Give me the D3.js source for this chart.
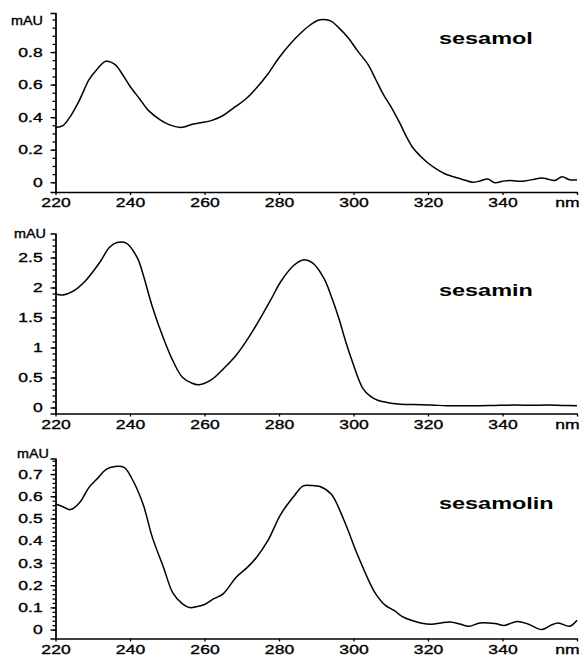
<!DOCTYPE html>
<html>
<head>
<meta charset="utf-8">
<script src="https://cdn.jsdelivr.net/npm/d3@7"></script>
<style>
body { margin: 0; background: #fff; }
svg text { font-family: "Liberation Sans", Arial, sans-serif; fill: #000; }
.axis path, .axis line { stroke: #000; stroke-width: 1.3; }
.spectrum { fill: none; stroke: #000; stroke-width: 1.5; stroke-linejoin: round; }
</style>
</head>
<body>
<div id="chart"></div>
<script>
// UV spectra (wavelength in nm, absorbance in mAU)

const xTicks      = [220, 240, 260, 280, 300, 320, 340, 360];
const xTickLabels = ["220", "240", "260", "280", "300", "320", "340", "nm"];

const sesamolNm  = [220, 222, 224, 226.5, 229, 231, 233.5, 236, 238, 240, 242.5, 245, 248, 250.5, 253.5, 255, 256.5, 259, 262, 265, 268, 271, 274, 277, 280, 283, 286, 288, 290.5, 292, 294, 296, 298.5, 301, 304, 306, 308, 310, 312.5, 314, 316, 318, 320, 322, 324.5, 326, 328, 330, 332, 334, 336, 338, 340, 342, 344, 346, 348, 350.5, 352, 354, 356, 358, 360];
const sesamolAbs = [0.337, 0.348, 0.405, 0.508, 0.63, 0.69, 0.743, 0.723, 0.662, 0.59, 0.515, 0.44, 0.385, 0.354, 0.337, 0.343, 0.355, 0.365, 0.38, 0.41, 0.46, 0.51, 0.58, 0.665, 0.765, 0.85, 0.92, 0.96, 0.995, 1.0, 0.99, 0.95, 0.89, 0.81, 0.72, 0.63, 0.54, 0.466, 0.36, 0.29, 0.21, 0.16, 0.118, 0.085, 0.052, 0.04, 0.026, 0.012, 0.0, 0.008, 0.02, -0.003, 0.006, 0.011, 0.006, 0.008, 0.016, 0.026, 0.02, 0.011, 0.034, 0.015, 0.015];
const sesamolTicks = [0, 0.2, 0.4, 0.6, 0.8];

const sesaminNm  = [220, 222, 224.5, 228, 232, 234.5, 236.5, 239, 242, 243.5, 246, 249, 251.5, 254, 256.5, 258.5, 262, 265, 268.5, 272, 275, 278, 280.5, 284, 286.5, 289, 292, 294, 296, 298, 299.5, 302.5, 304.5, 306.5, 309, 312, 316, 321, 325, 330, 334, 338, 343, 348, 352, 356, 360];
const sesaminAbs = [1.89, 1.875, 1.93, 2.11, 2.43, 2.67, 2.75, 2.74, 2.49, 2.22, 1.68, 1.15, 0.78, 0.51, 0.41, 0.38, 0.47, 0.64, 0.87, 1.18, 1.49, 1.82, 2.1, 2.37, 2.46, 2.41, 2.16, 1.86, 1.5, 1.08, 0.8, 0.32, 0.19, 0.12, 0.085, 0.06, 0.05, 0.042, 0.028, 0.03, 0.03, 0.035, 0.04, 0.038, 0.04, 0.035, 0.03];
const sesaminTicks = [0, 0.5, 1, 1.5, 2, 2.5];

const sesamolinNm  = [220, 222, 224, 226.5, 229, 231.5, 233.5, 236, 238.5, 240.5, 243.5, 246, 249, 251.5, 254, 256, 258, 260, 262.5, 265, 268.5, 271.5, 274, 277, 280.5, 284, 286.5, 289, 291, 294, 297.5, 301, 304.5, 306, 308.5, 311, 313, 315.5, 318, 321, 323.5, 326, 328.5, 331, 334, 338, 340.5, 344, 347, 350.5, 353, 355, 358, 360];
const sesamolinAbs = [0.565, 0.553, 0.54, 0.572, 0.64, 0.684, 0.72, 0.734, 0.729, 0.68, 0.565, 0.415, 0.28, 0.165, 0.117, 0.099, 0.104, 0.113, 0.139, 0.161, 0.236, 0.28, 0.326, 0.4, 0.52, 0.6, 0.647, 0.648, 0.644, 0.61, 0.49, 0.34, 0.206, 0.16, 0.11, 0.085, 0.06, 0.042, 0.03, 0.024, 0.03, 0.034, 0.025, 0.015, 0.03, 0.027, 0.019, 0.037, 0.024, 0.0, 0.02, 0.03, 0.015, 0.042];
const sesamolinTicks = [0, 0.1, 0.2, 0.3, 0.4, 0.5, 0.6, 0.7];

const width = 582;
const height = 660;
const stretch = 1.35;   // the scan is wider than it is tall, text included

const panels = [
    { title: "sesamol",   nm: sesamolNm,   abs: sesamolAbs,   ticks: sesamolTicks,   minor: 0.05, domain: [-0.06, 1.04], top: 13,    bottom: 192,   titleY: 44,  unitX: 43, unitY: 25 },
    { title: "sesamin",   nm: sesaminNm,   abs: sesaminAbs,   ticks: sesaminTicks,   minor: 0.1,  domain: [-0.1, 2.9],   top: 233.5, bottom: 413.5, titleY: 296, unitX: 46, unitY: 238 },
    { title: "sesamolin", nm: sesamolinNm, abs: sesamolinAbs, ticks: sesamolinTicks, minor: 0.02, domain: [-0.04, 0.77], top: 458.5, bottom: 638.5, titleY: 509, unitX: 49, unitY: 458 },
];

const svg = d3.select("#chart").append("svg")
    .attr("width", width)
    .attr("height", height);

const x = d3.scaleLinear().domain([220, 360]).range([55.5, 577]);

panels.forEach(p => {
    const y = d3.scaleLinear().domain(p.domain).range([p.bottom, p.top]);
    const g = svg.append("g");

    // minor ticks on the y axis
    g.append("g")
        .attr("class", "axis")
        .attr("transform", "translate(55.5,0)")
        .call(d3.axisLeft(y)
            .tickValues(d3.range(0, p.domain[1], p.minor))
            .tickSize(3)
            .tickSizeOuter(0)
            .tickFormat(""));

    const yAxis = g.append("g")
        .attr("class", "axis")
        .attr("transform", "translate(55.5,0)")
        .call(d3.axisLeft(y)
            .tickValues(p.ticks)
            .tickSize(5)
            .tickSizeOuter(5)
            .tickFormat(d => String(d)));

    yAxis.selectAll("text")
        .attr("x", -9.5)
        .attr("transform", `scale(${stretch},1)`)
        .style("font-size", "13px")
        .style("stroke", "#000")
        .style("stroke-width", 0.35);

    const xAxis = g.append("g")
        .attr("class", "axis")
        .attr("transform", `translate(0,${p.bottom})`)
        .call(d3.axisBottom(x)
            .tickValues(xTicks)
            .tickSize(3)
            .tickSizeOuter(0)
            .tickFormat((d, i) => xTickLabels[i]));

    xAxis.selectAll("text")
        .attr("y", 6)
        .attr("transform", `scale(${stretch},1)`)
        .style("font-size", "13px")
        .style("stroke", "#000")
        .style("stroke-width", 0.35);

    // the unit label sits flush with the right end of the axis
    xAxis.selectAll(".tick:last-of-type text")
        .attr("text-anchor", "end")
        .attr("x", 1.5);

    g.selectAll(".domain").attr("stroke-width", 1.5);

    g.append("text")
        .attr("transform", `translate(${p.unitX},${p.unitY}) scale(1.15,1)`)
        .attr("text-anchor", "end")
        .style("font-size", "12.5px")
        .style("stroke", "#000")
        .style("stroke-width", 0.35)
        .text("mAU");

    const line = d3.line()
        .x((d, i) => x(p.nm[i]))
        .y(d => y(d))
        .curve(d3.curveCatmullRom);

    g.append("path")
        .datum(p.abs)
        .attr("class", "spectrum")
        .attr("d", line);

    g.append("text")
        .attr("transform", `translate(439,${p.titleY}) scale(1.38,1)`)
        .style("font-size", "17px")
        .style("font-weight", "bold")
        .text(p.title);
});
</script>
</body>
</html>
